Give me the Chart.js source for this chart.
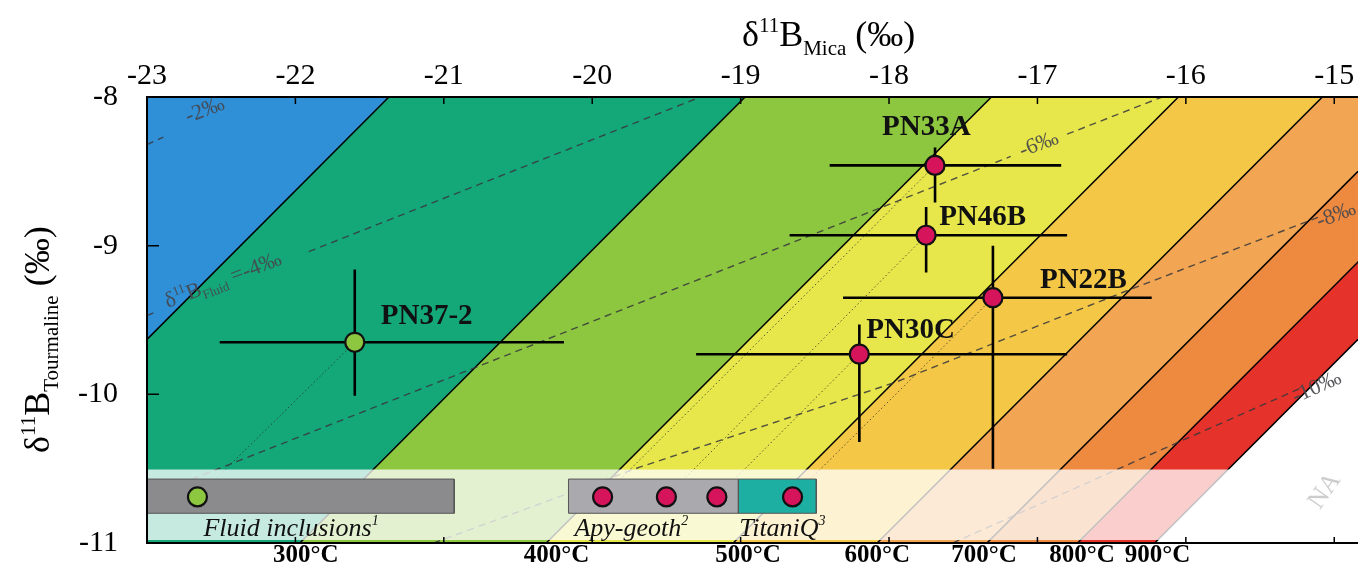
<!DOCTYPE html>
<html>
<head>
<meta charset="utf-8">
<script src="https://cdn.jsdelivr.net/npm/chart.js@4.4.1/dist/chart.umd.min.js"></script>
<style>
  html, body { margin: 0; padding: 0; background: #fff; overflow: hidden; }
  #chart { display: block; position: absolute; left: 0; top: 0; }
</style>
</head>
<body>
<canvas id="chart" width="1358" height="568"></canvas>
<script>
const micaTicks = [-23, -22, -21, -20, -19, -18, -17, -16, -15];
const tourTicks = [-8, -9, -10, -11];

// isotherms: d11B mica where each line meets d11B tur = -8 (top) and -11 (bottom)
const isoTopMica = [-21.37, -18.97, -17.31, -16.05, -15.08, -14.34, -13.73, -13.21];
const isoBottomMica = [-24.37, -21.97, -20.31, -19.05, -18.08, -17.34, -16.73, -16.21];
const bandColors = ["#2f90d8", "#14a879", "#8dc63f", "#e7e74b", "#f4c846", "#f2a553", "#ee8a40", "#e5322b"];

const tempLabels = ["300°C", "400°C", "500°C", "600°C", "700°C", "800°C", "900°C"];
const tempLabelMica = [-21.93, -20.24, -18.95, -18.08, -17.36, -16.70, -16.19];

// samples
const samples = ["PN37-2", "PN33A", "PN46B", "PN22B", "PN30C"];
const micaB = [-21.60, -17.69, -17.75, -17.30, -18.20];
const micaLo = [-22.51, -18.40, -18.67, -18.31, -19.30];
const micaHi = [-20.19, -16.84, -16.80, -16.23, -16.80];
const tourB = [-9.65, -8.46, -8.93, -9.35, -9.73];
const tourHi = [-9.16, -8.34, -8.74, -9.00, -9.53];
const tourLo = [-10.01, -8.71, -9.18, -10.50, -10.32];
const sampleColors = ["#8dc63f", "#d6145c", "#d6145c", "#d6145c", "#d6145c"];

// independent temperature estimates (inset), one circle per sample
const insetMica = [-22.66, -19.93, -19.50, -18.65, -19.16];
const insetTour = -10.69;
const methods = ["Fluid inclusions", "Apy-geoth", "TitaniQ"];
const methodNote = ["1", "2", "3"];
const methodMicaFrom = [-23.0, -20.16, -19.015];
const methodMicaTo = [-20.93, -19.015, -18.49];
const methodTour = [-10.57, -10.80];
const methodColors = ["#8b8b8e", "#a9a9ae", "#1eafa3"];
const methodLabelMica = [-22.62, -20.12, -19.01];
const overlayTour = [-10.505, -10.98];

// d11B fluid contours (null = gap for the label)
const fluidLabels = ["-2‰", "-4‰", "-6‰", "-8‰", "-10‰"];
const fluidLines = [
  [[-23.0, -8.32], [-22.89, -8.27]],
  [[-23.0, -9.47], [-22.93, -9.44], null, [-21.91, -9.04], [-19.27, -8.0]],
  [[-23.0, -10.69], [-17.18, -8.40], null, [-16.80, -8.25], [-16.16, -8.0]],
  [[-21.07, -11.0], [-19.68, -10.49], [-17.96, -9.92], [-16.44, -9.32], [-15.11, -8.81]],
  [[-17.57, -11.0], [-16.25, -10.41], [-15.23, -9.96]]
];
const fluidLabelAt = [[-22.61, -8.09], [-22.86, -9.42], [-16.99, -8.32], [-15.10, -8.88], [-15.26, -10.06]];

const XY = (p) => (p ? { x: p[0], y: p[1] } : { x: null, y: null });
const datasets = [];
const base = { pointRadius: 0, tension: 0, borderWidth: 0, borderColor: "transparent", fill: false };

// coloured isotherm bands
const bands = [[[-30, -8], [isoTopMica[0], -8], [isoBottomMica[0], -11], [-30, -11]]];
for (let i = 0; i < isoTopMica.length - 1; i++) {
  bands.push([[isoTopMica[i], -8], [isoTopMica[i + 1], -8], [isoBottomMica[i + 1], -11], [isoBottomMica[i], -11]]);
}
bands.forEach((b, i) => datasets.push({ ...base, data: b.map(XY), fill: "shape", backgroundColor: bandColors[i], order: 20 }));

// isotherm lines
isoTopMica.forEach((t, i) => datasets.push({
  ...base, data: [XY([t, -8]), XY([isoBottomMica[i], -11])], borderColor: "#000", borderWidth: 1.5, order: 19
}));

// fluid contours
fluidLines.forEach((l) => datasets.push({
  ...base, data: l.map(XY), borderColor: "rgba(55,55,60,0.85)", borderWidth: 1.4, borderDash: [7, 5], order: 18
}));

// dotted links sample -> inset circle
samples.forEach((s, i) => datasets.push({
  ...base, data: [XY([micaB[i], tourB[i]]), XY([insetMica[i], insetTour])],
  borderColor: "rgba(40,40,40,0.75)", borderWidth: 1, borderDash: [1.5, 2.5], order: 17
}));

// translucent inset band
datasets.push({
  ...base, fill: "shape", backgroundColor: "rgba(255,255,255,0.76)", order: 16,
  data: [[-23, overlayTour[0]], [-14.84, overlayTour[0]], [-14.84, overlayTour[1]], [-23, overlayTour[1]]].map(XY)
});

// method boxes
methods.forEach((m, i) => datasets.push({
  ...base, fill: "shape", backgroundColor: methodColors[i], borderColor: "#555", borderWidth: 1, order: 15,
  data: [[methodMicaFrom[i], methodTour[0]], [methodMicaTo[i], methodTour[0]], [methodMicaTo[i], methodTour[1]],
         [methodMicaFrom[i], methodTour[1]], [methodMicaFrom[i], methodTour[0]]].map(XY)
}));

// error bars
samples.forEach((s, i) => {
  datasets.push({ ...base, data: [XY([micaLo[i], tourB[i]]), XY([micaHi[i], tourB[i]])], borderColor: "#000", borderWidth: 2.6, order: 10 });
  datasets.push({ ...base, data: [XY([micaB[i], tourHi[i]]), XY([micaB[i], tourLo[i]])], borderColor: "#000", borderWidth: 2.6, order: 10 });
});

// points
datasets.push({
  data: samples.map((s, i) => XY([micaB[i], tourB[i]])), showLine: false, order: 2,
  pointRadius: 9.5, pointBackgroundColor: sampleColors, pointBorderColor: "#111", pointBorderWidth: 2.2
});
datasets.push({
  data: insetMica.map((v) => XY([v, insetTour])), showLine: false, order: 2,
  pointRadius: 9.5, pointBackgroundColor: sampleColors, pointBorderColor: "#111", pointBorderWidth: 2.2
});

const SERIF = '"Liberation Serif", "Times New Roman", serif';
const labelOffset = [[26, -18], [-53, -30], [13, -10], [47, -10], [7, -16]];

function rich(ctx, parts, x, y, angle, color) {
  ctx.save();
  ctx.translate(x, y);
  ctx.rotate(angle || 0);
  ctx.fillStyle = color || "#000";
  ctx.textBaseline = "alphabetic";
  ctx.textAlign = "left";
  let cx = 0;
  parts.forEach((p) => {
    ctx.font = `${p.style || ""} ${p.size}px ${SERIF}`;
    ctx.fillText(p.t, cx, p.dy || 0);
    cx += ctx.measureText(p.t).width;
  });
  ctx.restore();
}

const decor = {
  id: "decor",
  afterDatasetsDraw(chart) {
    const { ctx, chartArea: a, scales } = chart;
    const sx = scales.x, sy = scales.y;
    const px = (v) => sx.getPixelForValue(v);
    const py = (v) => sy.getPixelForValue(v);
    ctx.save();

    // frame + inward ticks
    ctx.strokeStyle = "#000";
    ctx.lineWidth = 2;
    ctx.beginPath();
    ctx.moveTo(a.right, a.top); ctx.lineTo(a.left, a.top); ctx.lineTo(a.left, a.bottom); ctx.lineTo(a.right, a.bottom);
    ctx.stroke();
    ctx.lineWidth = 1.5;
    ctx.beginPath();
    micaTicks.slice(1).forEach((v) => {
      ctx.moveTo(px(v), a.top); ctx.lineTo(px(v), a.top + 7);
      ctx.moveTo(px(v), a.bottom); ctx.lineTo(px(v), a.bottom - 6);
    });
    tourTicks.slice(1, -1).forEach((v) => {
      ctx.moveTo(a.left, py(v)); ctx.lineTo(a.left + 12, py(v));
    });
    ctx.stroke();

    // fluid contour labels
    const g = "rgba(70,70,75,0.9)";
    const rot = -21 * Math.PI / 180;
    ctx.fillStyle = g;
    ctx.font = `22px ${SERIF}`;
    ctx.textBaseline = "middle";
    ctx.textAlign = "center";
    [0, 2].forEach((i) => {
      ctx.save();
      ctx.translate(px(fluidLabelAt[i][0]), py(fluidLabelAt[i][1]));
      ctx.rotate(rot);
      ctx.fillText(fluidLabels[i], 0, 0);
      ctx.restore();
    });
    rich(ctx, [{ t: "δ", size: 22 }, { t: "11", size: 13, dy: -9 }, { t: "B", size: 22 },
      { t: "Fluid", size: 13, dy: 5 }, { t: " =" + fluidLabels[1], size: 22 }],
      px(fluidLabelAt[1][0]), py(fluidLabelAt[1][1]), rot, g);
    rich(ctx, [{ t: fluidLabels[3], size: 22 }], px(fluidLabelAt[3][0]), py(fluidLabelAt[3][1]), rot, g);
    rich(ctx, [{ t: fluidLabels[4], size: 22 }], px(fluidLabelAt[4][0]), py(fluidLabelAt[4][1]), -24 * Math.PI / 180, g);

    // NA
    ctx.save();
    ctx.translate(1325, 491);
    ctx.rotate(-55 * Math.PI / 180);
    ctx.fillStyle = "#cdcdcd";
    ctx.font = `26px ${SERIF}`;
    ctx.textAlign = "center";
    ctx.textBaseline = "middle";
    ctx.fillText("NA", 0, 0);
    ctx.restore();

    // method labels
    methods.forEach((m, i) => {
      rich(ctx, [{ t: m, size: 26, style: "italic" }, { t: methodNote[i], size: 14, dy: -11, style: "italic" }],
        px(methodLabelMica[i]), a.bottom - 7, 0, "#111");
    });

    // sample labels
    ctx.fillStyle = "#111";
    ctx.font = `bold 29px ${SERIF}`;
    ctx.textAlign = "left";
    ctx.textBaseline = "alphabetic";
    samples.forEach((s, i) => {
      ctx.fillText(s, px(micaB[i]) + labelOffset[i][0], py(tourB[i]) + labelOffset[i][1]);
    });

    // axis titles
    rich(ctx, [{ t: "δ", size: 36 }, { t: "11", size: 21, dy: -14 }, { t: "B", size: 36 },
      { t: "Mica", size: 21, dy: 9 }, { t: " (‰)", size: 36 }], 742, 46, 0, "#000");
    rich(ctx, [{ t: "δ", size: 36 }, { t: "11", size: 21, dy: -14 }, { t: "B", size: 36 },
      { t: "Tourmaline", size: 21, dy: 9 }, { t: " (‰)", size: 36 }], 49, 453, -Math.PI / 2, "#000");
    ctx.restore();
  }
};

const noPad = (s) => { s.paddingLeft = 0; s.paddingRight = 0; s.paddingTop = 0; s.paddingBottom = 0; };

new Chart(document.getElementById("chart"), {
  type: "line",
  data: { datasets },
  options: {
    responsive: false,
    animation: false,
    devicePixelRatio: 1,
    layout: { padding: 0, autoPadding: false },
    plugins: { legend: { display: false }, tooltip: { enabled: false } },
    scales: {
      x: {
        type: "linear", position: "top", min: -23, max: -14.84,
        afterBuildTicks: (s) => { s.ticks = micaTicks.map((v) => ({ value: v })); },
        afterFit: (s) => { s.height = 97; noPad(s); },
        grid: { display: false, drawTicks: false }, border: { display: false },
        ticks: { color: "#000", font: { family: SERIF, size: 30 }, padding: 3, maxRotation: 0, autoSkip: false, callback: (v) => String(v) }
      },
      xb: {
        axis: "x", type: "linear", position: "bottom", min: -23, max: -14.84,
        afterBuildTicks: (s) => { s.ticks = tempLabelMica.map((v) => ({ value: v })); },
        afterFit: (s) => { s.height = 25; noPad(s); },
        grid: { display: false, drawTicks: false }, border: { display: false },
        ticks: { color: "#000", font: { family: SERIF, size: 25, weight: "bold", lineHeight: 1 }, padding: 0, maxRotation: 0, autoSkip: false,
          callback: (v, i) => tempLabels[i] }
      },
      y: {
        type: "linear", position: "left", min: -11, max: -8,
        afterBuildTicks: (s) => { s.ticks = tourTicks.map((v) => ({ value: v })); },
        afterFit: (s) => { s.width = 147; noPad(s); },
        grid: { display: false, drawTicks: false }, border: { display: false },
        ticks: { color: "#000", font: { family: SERIF, size: 30 }, padding: 29, autoSkip: false, callback: (v) => String(v) }
      }
    }
  },
  plugins: [decor]
});
</script>
</body>
</html>
